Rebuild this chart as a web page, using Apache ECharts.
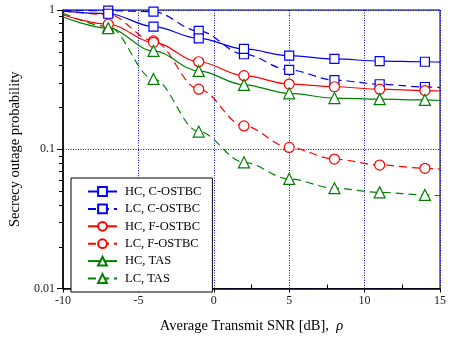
<!DOCTYPE html>
<html>
<head>
<meta charset="utf-8">
<script src="https://cdn.jsdelivr.net/npm/echarts@6/dist/echarts.min.js"></script>
<style>
html,body{margin:0;padding:0;background:#fff;}
#main{width:449px;height:342px;}
</style>
</head>
<body>
<div id="main"></div>
<script>
// SNR points (dB); markers at -7..14, curve endpoints at -10 and 15
const snr = [-10, -7, -4, -1, 2, 5, 8, 11, 14, 15];
const hcCostbc = [0.98, 0.94, 0.76, 0.626, 0.525, 0.47, 0.445, 0.43, 0.425, 0.423];
const lcCostbc = [0.995, 0.99, 0.972, 0.707, 0.481, 0.371, 0.314, 0.293, 0.28, 0.277];
const hcFostbc = [0.92, 0.79, 0.586, 0.425, 0.3375, 0.294, 0.281, 0.27, 0.264, 0.262];
const lcFostbc = [0.98, 0.93, 0.60, 0.27, 0.147, 0.103, 0.085, 0.077, 0.073, 0.072];
const hcTas = [0.89, 0.74, 0.508, 0.365, 0.29, 0.252, 0.233, 0.229, 0.226, 0.224];
const lcTas = [0.95, 0.76, 0.32, 0.134, 0.0806, 0.0612, 0.0525, 0.049, 0.047, 0.0465];
const seriesNames = ['HC, C-OSTBC', 'LC, C-OSTBC', 'HC, F-OSTBC', 'LC, F-OSTBC', 'HC, TAS', 'LC, TAS'];
const xTicks = [-10, -5, 0, 5, 10, 15];

const FONT = '"Liberation Serif", "Times New Roman", serif';
const BLUE = '#0000ff', RED = '#ff0000', GREEN = '#008000';

function mk(name, vals, color, dashed, symbol, size) {
  return {
    name: name,
    type: 'line',
    smooth: 0.35,
    smoothMonotone: 'x',
    symbol: symbol,
    symbolSize: size,
    showAllSymbol: true,
    clip: true,
    z: dashed ? 3 : 4,
    lineStyle: { color: color, width: 1.2, type: dashed ? [8, 5] : 'solid' },
    itemStyle: { color: '#fff', borderColor: color, borderWidth: 1.2 },
    emphasis: { disabled: true },
    data: snr.map(function (x, i) {
      const d = { value: [x, vals[i]] };
      if (i === 0 || i === snr.length - 1) d.symbol = 'none';
      return d;
    })
  };
}

const chart = echarts.init(document.getElementById('main'), null, { renderer: 'canvas' });
const option = {
  animation: false,
  backgroundColor: '#fff',
  textStyle: { fontFamily: FONT },
  grid: { left: 63, right: 5, top: 10, bottom: 53.5, show: true, borderColor: '#000', borderWidth: 1, backgroundColor: 'transparent' },
  legend: {
    orient: 'vertical',
    left: 71, top: 178,
    padding: [7, 11, 7, 16],
    itemWidth: 29, itemHeight: 11, itemGap: 4.4,
    borderColor: '#000', borderWidth: 1, backgroundColor: '#fff',
    textStyle: { fontFamily: FONT, fontSize: 12.5, color: '#000', padding: [0, 0, 0, 3] },
    data: seriesNames
  },
  xAxis: {
    type: 'value', min: xTicks[0], max: xTicks[xTicks.length - 1], interval: 5,
    name: '{a|Average Transmit SNR [dB],  }{b|ρ}',
    nameLocation: 'middle', nameGap: 30,
    nameTextStyle: { rich: { a: { fontFamily: FONT, fontSize: 14.5, color: '#000' }, b: { fontFamily: FONT, fontSize: 14.5, fontStyle: 'italic', color: '#000' } } },
    axisLine: { onZero: false, lineStyle: { color: '#000', width: 1.5 } },
    axisTick: { show: true, length: 4, lineStyle: { color: '#000', width: 1 } },
    minorTick: { show: true, splitNumber: 2, length: -4, lineStyle: { color: '#000', width: 1 } },
    axisLabel: { fontFamily: FONT, fontSize: 12, color: '#222', margin: 6 },
    splitLine: { show: true, lineStyle: { color: '#0000ff', type: [1, 1.5], width: 1 } }
  },
  yAxis: {
    type: 'log', logBase: 10, min: 0.01, max: 1,
    name: 'Secrecy outage probability',
    nameLocation: 'middle', nameGap: 29,
    nameTextStyle: { fontFamily: FONT, fontSize: 14.5, color: '#000' },
    axisLine: { onZero: false, lineStyle: { color: '#000', width: 1.5 } },
    axisTick: { show: true, length: 6, lineStyle: { color: '#000', width: 1 } },
    axisLabel: { fontFamily: FONT, fontSize: 12, color: '#222', margin: 8,
      formatter: function (v) { return String(+v.toPrecision(3)); } },
    splitLine: { show: true, lineStyle: { color: '#0000ff', type: [1, 1.5], width: 1 } }
  },
  series: [
    mk(seriesNames[0], hcCostbc, BLUE, false, 'rect', 9),
    mk(seriesNames[1], lcCostbc, BLUE, true, 'rect', 9),
    mk(seriesNames[2], hcFostbc, RED, false, 'circle', 10),
    mk(seriesNames[3], lcFostbc, RED, true, 'circle', 10),
    mk(seriesNames[4], hcTas, GREEN, false, 'triangle', 11),
    mk(seriesNames[5], lcTas, GREEN, true, 'triangle', 11)
  ]
};
chart.setOption(option);

// log-axis minor ticks at 2..9 x decade (positions from the axis scale)
const x0 = chart.convertToPixel({ xAxisIndex: 0 }, xTicks[0]);
const minor = [];
[0.01, 0.1].forEach(function (d) {
  for (let k = 2; k <= 9; k++) {
    const y = Math.round(chart.convertToPixel({ yAxisIndex: 0 }, k * d)) + 0.5;
    minor.push({ type: 'line', shape: { x1: x0 - 4, y1: y, x2: x0, y2: y }, style: { stroke: '#000', lineWidth: 1 }, silent: true, z: 10 });
  }
});
chart.setOption({ graphic: minor });
</script>
</body>
</html>
